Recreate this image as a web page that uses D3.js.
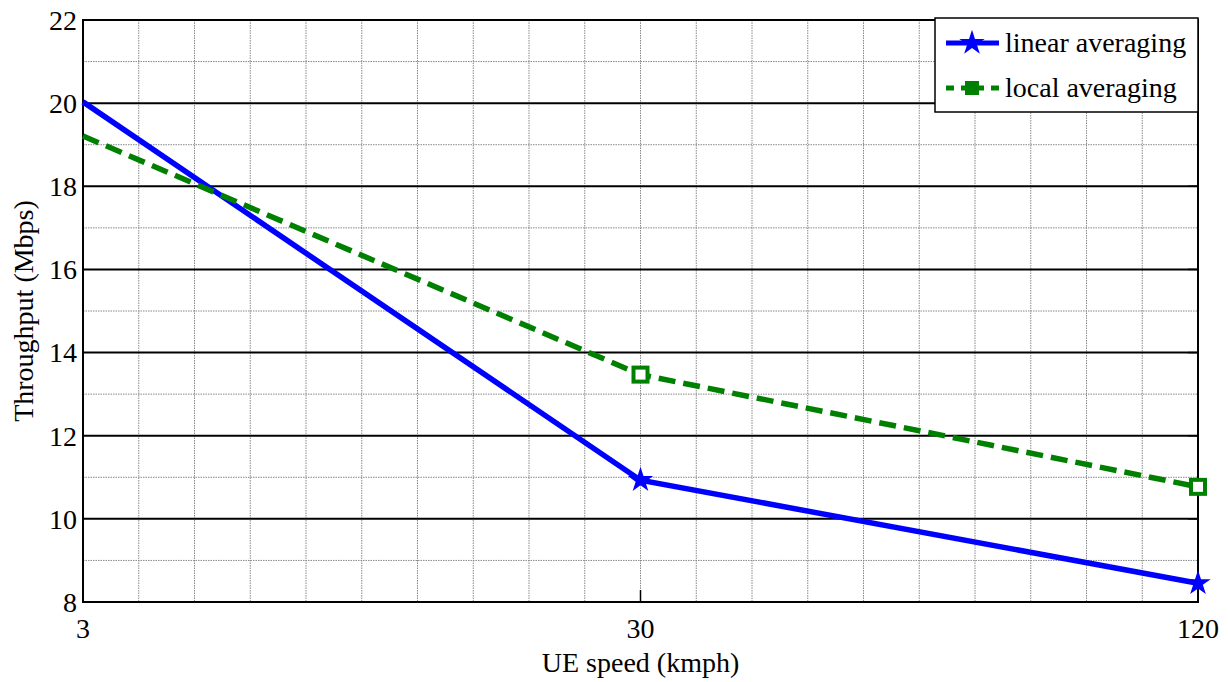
<!DOCTYPE html>
<html><head><meta charset="utf-8">
<script src="https://cdn.jsdelivr.net/npm/d3@7"></script>
<style>body{margin:0;background:#fff} svg text{font-family:"Liberation Serif","Tinos","DejaVu Serif",serif !important}</style>
</head><body><svg id="c" width="1228" height="682"></svg>
<script>
const speeds = ["3","30","120"];
const linearAvg = [20.03, 10.93, 8.45];
const localAvg = [19.21, 13.47, 10.77];
const yTicks = [8,10,12,14,16,18,20,22];
const seriesNames = ["linear averaging","local averaging"];

const svg = d3.select("#c");
const L=83,R=1198,T=20,B=602;
const x = d3.scaleLinear().domain([0,2]).range([L,R]);
const y = d3.scaleLinear().domain([8,22]).range([B,T]);
const g = svg.append("g");

g.selectAll(".vg").data(d3.range(1,20).map(i=>i/10)).join("line")
 .attr("x1",d=>x(d)).attr("x2",d=>x(d)).attr("y1",T).attr("y2",B)
 .attr("stroke","#888").attr("stroke-width",1).attr("stroke-dasharray","1.5,1");
g.selectAll(".hm").data(d3.range(9,22,2)).join("line")
 .attr("x1",L).attr("x2",R).attr("y1",d=>y(d)).attr("y2",d=>y(d))
 .attr("stroke","#888").attr("stroke-width",1).attr("stroke-dasharray","1.5,1");
g.selectAll(".hM").data(yTicks.slice(1,-1)).join("line")
 .attr("x1",L).attr("x2",R).attr("y1",d=>y(d)).attr("y2",d=>y(d))
 .attr("stroke","#000").attr("stroke-width",2);

g.selectAll(".rt").data(yTicks).join("line")
 .attr("x1",R-10).attr("x2",R).attr("y1",d=>y(d)).attr("y2",d=>y(d)).attr("stroke","#000").attr("stroke-width",1.5);
g.selectAll(".xt").data([0,1,2]).join("line")
 .attr("x1",d=>x(d)).attr("x2",d=>x(d)).attr("y1",B).attr("y2",B-12).attr("stroke","#000").attr("stroke-width",1.5);

g.append("rect").attr("x",L).attr("y",T).attr("width",R-L).attr("height",B-T)
 .attr("fill","none").attr("stroke","#000").attr("stroke-width",2);

g.selectAll(".yl").data(yTicks).join("text")
 .attr("x",77).attr("y",d=>y(d)).attr("dy","0.35em").attr("text-anchor","end")
 .attr("font-size",28).text(d=>d);
g.selectAll(".xl").data(speeds).join("text")
 .attr("x",(d,i)=>x(i)).attr("y",638).attr("text-anchor","middle")
 .attr("font-size",28).text(d=>d);
g.append("text").attr("x",(L+R)/2).attr("y",672).attr("text-anchor","middle")
 .attr("font-size",28).text("UE speed (kmph)");
g.append("text").attr("transform",`translate(33,${(T+B)/2}) rotate(-90)`)
 .attr("text-anchor","middle").attr("font-size",28).text("Throughput (Mbps)");

const line = d3.line().x((d,i)=>x(i)).y(d=>y(d));
const star = d3.symbol(d3.symbolStar).size(200);
g.append("path").attr("d",line(linearAvg)).attr("fill","none").attr("stroke","#0000ff").attr("stroke-width",5.5);
g.selectAll(".st").data(linearAvg.map((v,i)=>[i,v]).slice(1)).join("path").attr("d",star)
 .attr("transform",d=>`translate(${x(d[0])},${y(d[1])})`).attr("fill","#0000ff");
g.append("path").attr("d",line(localAvg)).attr("fill","none").attr("stroke","#008000").attr("stroke-width",5.5)
 .attr("stroke-dasharray","17,8");
g.selectAll(".sq").data(localAvg.map((v,i)=>[i,v]).slice(1)).join("rect")
 .attr("x",d=>x(d[0])-7).attr("y",d=>y(d[1])-7).attr("width",14).attr("height",14)
 .attr("fill","#fff").attr("stroke","#008000").attr("stroke-width",4);

const lg = svg.append("g");
lg.append("rect").attr("x",935).attr("y",18).attr("width",263).attr("height",94)
 .attr("fill","#fff").attr("stroke","#000").attr("stroke-width",1.5);
const rows=[{c:"#0000ff",dash:null,y:43},{c:"#008000",dash:"8,7",y:88}];
rows.forEach((r,i)=>{
  lg.append("line").attr("x1",946).attr("x2",999).attr("y1",r.y).attr("y2",r.y)
   .attr("stroke",r.c).attr("stroke-width",5).attr("stroke-dasharray",r.dash);
  if(i===0) lg.append("path").attr("d",star).attr("transform",`translate(972,${r.y})`).attr("fill",r.c);
  else lg.append("rect").attr("x",966).attr("y",r.y-6).attr("width",12).attr("height",12).attr("fill",r.c).attr("stroke",r.c).attr("stroke-width",2);
  lg.append("text").attr("x",1005).attr("y",r.y).attr("dy","0.33em").attr("font-size",28).text(seriesNames[i]);
});
</script></body></html>
